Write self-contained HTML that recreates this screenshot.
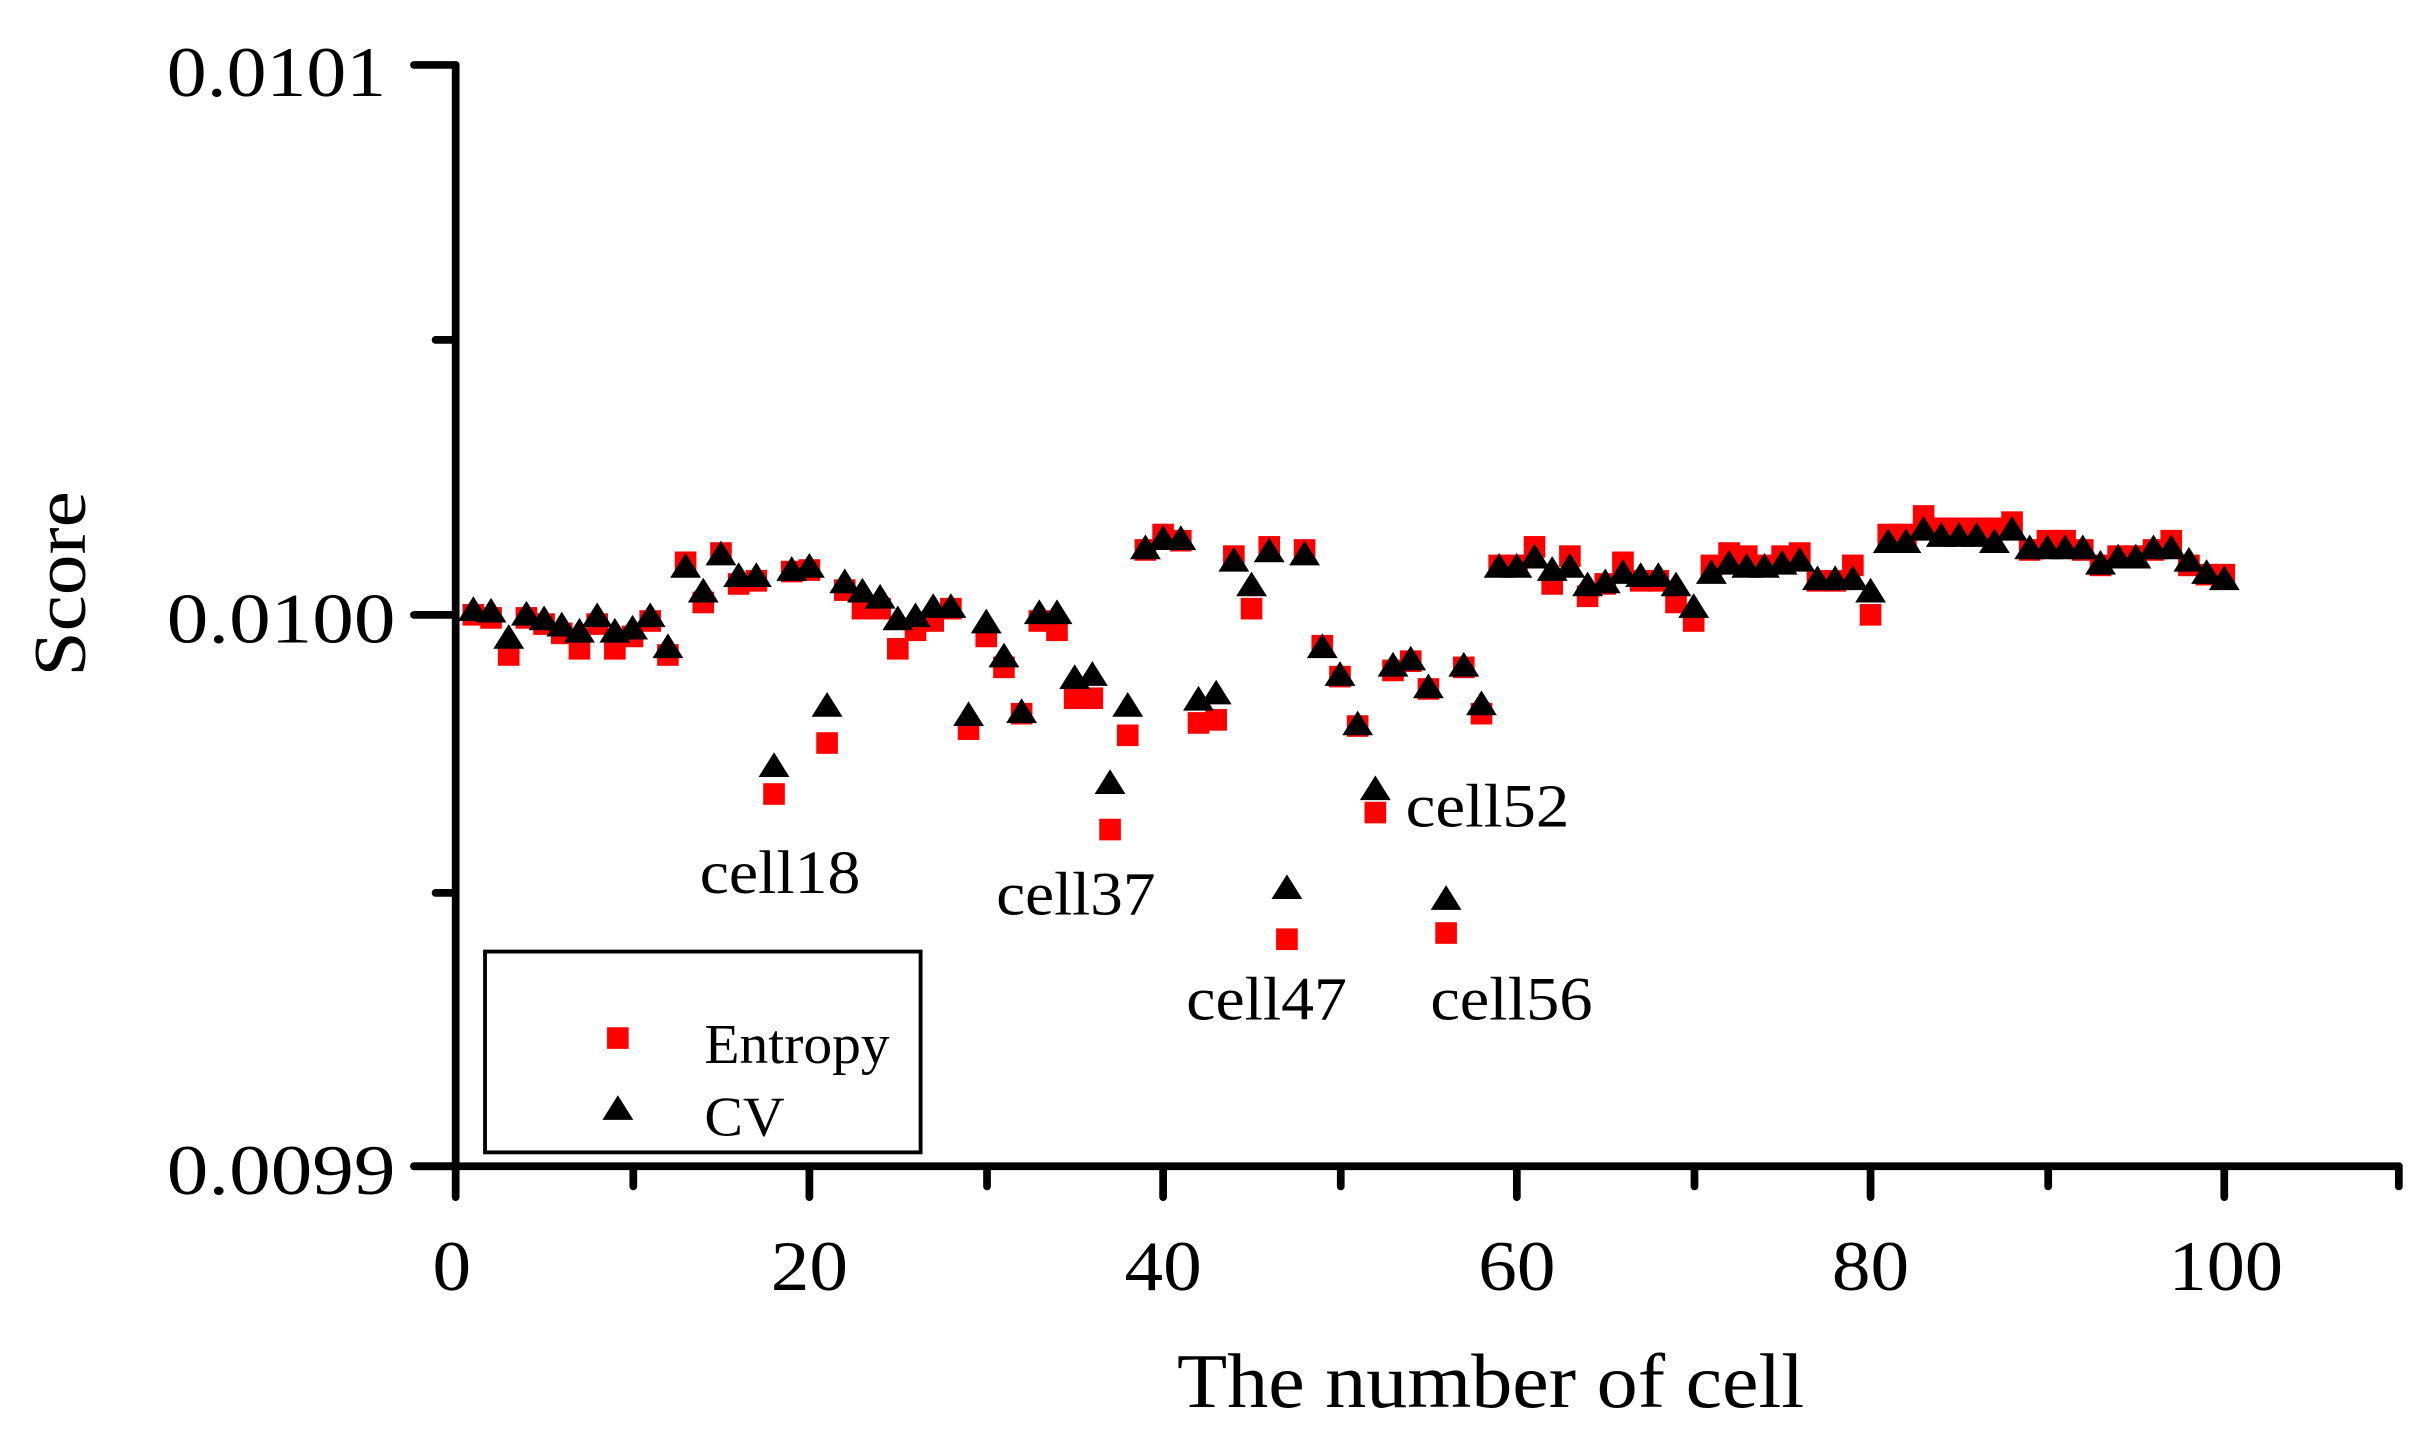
<!DOCTYPE html>
<html><head><meta charset="utf-8"><style>html,body{margin:0;padding:0;background:#fff}svg{display:block}</style></head>
<body>
<svg id="s" width="2422" height="1432" viewBox="0 0 1568 927" xmlns="http://www.w3.org/2000/svg" font-family="'Liberation Serif', serif">
<rect width="1568" height="927" fill="#fff"/>
<g id="pts"></g>
<g stroke="#000" stroke-width="5" stroke-linecap="round" fill="none">
<line x1="295" y1="42" x2="295" y2="775"/>
<line x1="268" y1="755" x2="1553" y2="755"/>
<line x1="268" y1="42" x2="295" y2="42"/>
<line x1="268" y1="398" x2="295" y2="398"/>
<line x1="268" y1="755" x2="295" y2="755"/>
<line x1="282" y1="220" x2="295" y2="220"/>
<line x1="282" y1="578" x2="295" y2="578"/>
<line x1="524" y1="755" x2="524" y2="775"/>
<line x1="753" y1="755" x2="753" y2="775"/>
<line x1="982" y1="755" x2="982" y2="775"/>
<line x1="1211" y1="755" x2="1211" y2="775"/>
<line x1="1440" y1="755" x2="1440" y2="775"/>
<line x1="410" y1="755" x2="410" y2="768"/>
<line x1="639" y1="755" x2="639" y2="768"/>
<line x1="868" y1="755" x2="868" y2="768"/>
<line x1="1097" y1="755" x2="1097" y2="768"/>
<line x1="1326" y1="755" x2="1326" y2="768"/>
<line x1="1553" y1="755" x2="1553" y2="768"/>
</g>
<g font-size="46" fill="#000">
<text x="108" y="62" textLength="142" lengthAdjust="spacingAndGlyphs">0.0101</text>
<text x="108" y="416" textLength="148" lengthAdjust="spacingAndGlyphs">0.0100</text>
<text x="108" y="773" textLength="148" lengthAdjust="spacingAndGlyphs">0.0099</text>
</g>
<g font-size="46" fill="#000">
<text x="280" y="835" textLength="25" lengthAdjust="spacingAndGlyphs">0</text>
<text x="499" y="835" textLength="50" lengthAdjust="spacingAndGlyphs">20</text>
<text x="728" y="835" textLength="50" lengthAdjust="spacingAndGlyphs">40</text>
<text x="957" y="835" textLength="50" lengthAdjust="spacingAndGlyphs">60</text>
<text x="1186" y="835" textLength="50" lengthAdjust="spacingAndGlyphs">80</text>
<text x="1404" y="835" textLength="74" lengthAdjust="spacingAndGlyphs">100</text>
</g>
<text x="762" y="911" font-size="50" textLength="406" lengthAdjust="spacingAndGlyphs">The number of cell</text>
<text transform="translate(55,438) rotate(-90)" font-size="48" textLength="120" lengthAdjust="spacingAndGlyphs">Score</text>
<g font-size="40">
<text x="453" y="578" textLength="104" lengthAdjust="spacingAndGlyphs">cell18</text>
<text x="645" y="592" textLength="103" lengthAdjust="spacingAndGlyphs">cell37</text>
<text x="768" y="660" textLength="104" lengthAdjust="spacingAndGlyphs">cell47</text>
<text x="910" y="535" textLength="106" lengthAdjust="spacingAndGlyphs">cell52</text>
<text x="926" y="660" textLength="105" lengthAdjust="spacingAndGlyphs">cell56</text>
</g>
<rect x="314" y="616" width="282" height="130" fill="#fff" stroke="#000" stroke-width="2.5"/>
<rect x="393" y="665" width="14" height="14" fill="#f00"/>
<polygon points="400,709 410,725 390,725" fill="#000"/>
<text x="456" y="688" font-size="36" textLength="120" lengthAdjust="spacingAndGlyphs">Entropy</text>
<text x="456" y="735" font-size="36" textLength="52" lengthAdjust="spacingAndGlyphs">CV</text>
</svg>
<script>
var E=[398,400,424,400,404,410,420,404,420,412,402,424,364,390,358,378,376,514,370,369,481,382,394,394,420,408,402,394,472,412,432,462,402,408,452,452,537,476,356,346,350,468,466,360,394,354,608,356,418,438,470,526,434,428,446,604,432,462,366,366,354,378,360,386,378,364,376,376,390,402,366,358,360,366,360,358,376,376,366,398,346,346,334,342,342,342,342,338,356,350,350,356,366,360,360,356,350,366,372,372];
var C=[396,397,414,399,402,406,410,400,410,408,400,420,368,384,360,374,374,497,370,368,458,378,384,388,402,400,394,394,464,404,426,462,398,398,440,438,508,458,356,350,350,454,450,364,380,358,576,360,420,438,470,512,432,428,446,583,432,457,368,368,362,370,368,380,378,372,374,374,380,394,372,366,368,368,366,364,376,376,376,384,352,352,344,348,348,348,352,344,356,356,356,356,366,362,362,356,356,364,372,376];
var g=document.getElementById('pts'),h='';
for(var i=0;i<100;i++){var x=295+(i+1)*11.45;h+='<rect x="'+(x-7)+'" y="'+(E[i]-7)+'" width="14" height="14" fill="#f00"/>';}
for(var i=0;i<100;i++){var x=295+(i+1)*11.45,y=C[i];h+='<polygon points="'+x+','+(y-10)+' '+(x+10)+','+(y+6)+' '+(x-10)+','+(y+6)+'" fill="#000"/>';}
g.innerHTML=h;
</script>
</body></html>
